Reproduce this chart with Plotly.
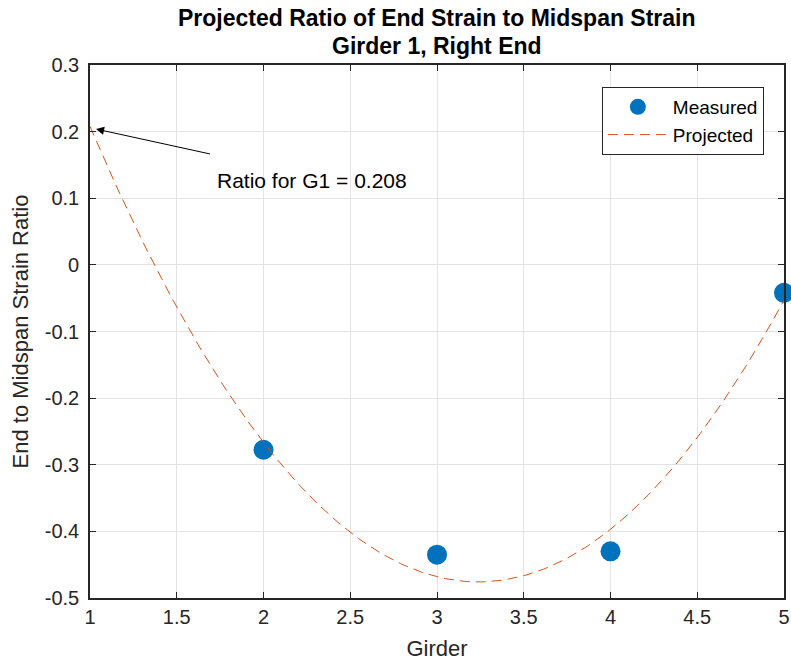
import numpy as np
import plotly.graph_objects as go

# Measured end-to-midspan strain ratios, girders 2-5
girders = [2, 3, 4, 5]
ratios = [-0.2775, -0.435, -0.430, -0.042]

# Quadratic projection back to girder 1
coef = np.polyfit(girders, ratios, 2)
x_fit = np.linspace(1, 5, 200)
y_fit = np.polyval(coef, x_fit)
g1_ratio = float(np.polyval(coef, 1))

x_ticks = [1, 1.5, 2, 2.5, 3, 3.5, 4, 4.5, 5]
y_ticks = [0.3, 0.2, 0.1, 0, -0.1, -0.2, -0.3, -0.4, -0.5]

title_lines = ["Projected Ratio of End Strain to Midspan Strain", "Girder 1, Right End"]

FONT = "Liberation Sans, Arial, sans-serif"
AXIS_COLOR = "#262626"

fig = go.Figure()
fig.add_trace(go.Scatter(
    x=girders, y=ratios, mode="markers", name="Measured",
    marker=dict(color="#0072BD", size=20, line=dict(width=0)),
    cliponaxis=False,
))
fig.add_trace(go.Scatter(
    x=x_fit, y=y_fit, mode="lines", name="Projected",
    line=dict(color="#D95319", width=1, dash="10px,6px"),
))

# Arrow pointing at the projected value for girder 1
fig.add_annotation(
    x=1.035, y=g1_ratio - 0.004, ax=1.70, ay=0.166,
    xref="x", yref="y", axref="x", ayref="y",
    text="", showarrow=True, arrowhead=2, arrowsize=1.6,
    arrowwidth=1, arrowcolor="black",
)
fig.add_annotation(
    x=1.72, y=0.127, xref="x", yref="y",
    text=f"Ratio for G1 = {g1_ratio:.3f}", showarrow=False,
    xanchor="left", yanchor="middle",
    font=dict(family=FONT, size=21, color="black"),
)

# Two-line bold title above the axes
for line, ypos in zip(title_lines, [1.0882, 1.0356]):
    fig.add_annotation(
        x=0.5, y=ypos, xref="paper", yref="paper",
        text=f"<b>{line}</b>", showarrow=False,
        xanchor="center", yanchor="middle",
        font=dict(family=FONT, size=23, color="black"),
    )

axis_common = dict(
    showline=True, linecolor=AXIS_COLOR, linewidth=1.6, mirror="ticks",
    ticks="inside", ticklen=6, tickwidth=1.2, tickcolor=AXIS_COLOR,
    showgrid=True, gridcolor="#E3E3E3", gridwidth=1, zeroline=False,
    tickfont=dict(family=FONT, size=20, color=AXIS_COLOR),
    automargin=False,
)

fig.update_layout(
    width=791, height=663,
    margin=dict(l=90, r=7, t=65, b=65),
    paper_bgcolor="white", plot_bgcolor="white",
    xaxis=dict(
        range=[1, 5], tickvals=x_ticks, ticktext=[f"{v:g}" for v in x_ticks],
        title=dict(text="Girder", font=dict(family=FONT, size=22, color=AXIS_COLOR), standoff=14),
        **axis_common,
    ),
    yaxis=dict(
        range=[-0.5, 0.3], tickvals=y_ticks, ticktext=[f"{v:g}" for v in y_ticks],
        title=dict(text="End to Midspan Strain Ratio", font=dict(family=FONT, size=22, color=AXIS_COLOR), standoff=10),
        ticklabelstandoff=5,
        **axis_common,
    ),
    legend=dict(
        x=0.971, y=0.9587, xanchor="right", yanchor="top",
        bgcolor="white", bordercolor=AXIS_COLOR, borderwidth=1,
        font=dict(family=FONT, size=19, color="black"),
        itemwidth=60,
    ),
    showlegend=True,
)

fig.write_html("out.html")
